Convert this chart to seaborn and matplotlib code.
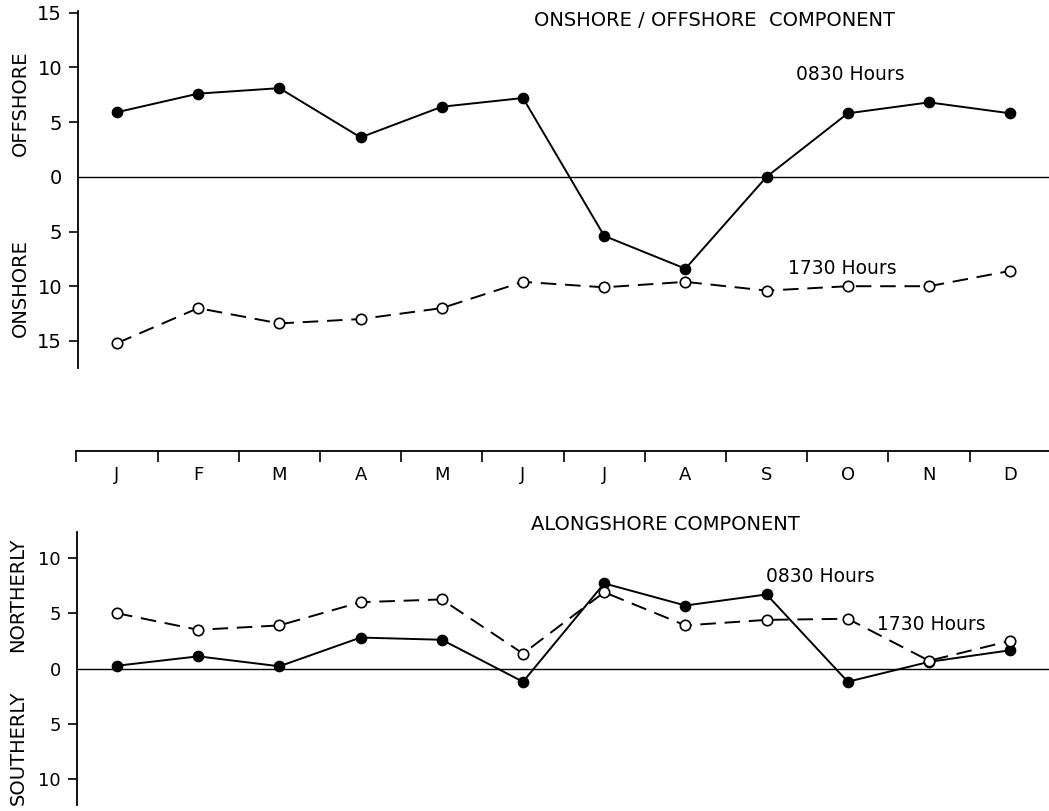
import matplotlib
matplotlib.use("Agg")
import matplotlib.pyplot as plt
import numpy as np
import pandas as pd
import seaborn as sns

# ---- data -------------------------------------------------------------
months = ["J", "F", "M", "A", "M", "J", "J", "A", "S", "O", "N", "D"]

# onshore / offshore component (offshore > 0, onshore < 0)
cross_0830 = [5.9, 7.6, 8.1, 3.6, 6.4, 7.2, -5.4, -8.4, 0.0, 5.8, 6.8, 5.8]
cross_1730 = [-15.2, -12.0, -13.4, -13.0, -12.0, -9.6, -10.1, -9.6, -10.4, -10.0, -10.0, -8.6]

# alongshore component (northerly > 0, southerly < 0)
along_0830 = [0.25, 1.1, 0.2, 2.8, 2.6, -1.2, 7.7, 5.7, 6.7, -1.2, 0.6, 1.65]
along_1730 = [5.0, 3.5, 3.9, 6.0, 6.25, 1.35, 6.9, 3.9, 4.4, 4.5, 0.7, 2.5]

cross_ticks = [15, 10, 5, 0, -5, -10, -15]
along_ticks = [10, 5, 0, -5, -10]

# ---- styling ----------------------------------------------------------
sns.set_theme(style="white")
plt.rcParams["font.family"] = ["DejaVu Sans"]
plt.rcParams["axes.linewidth"] = 1.3
plt.rcParams["text.color"] = "black"

W, H = 1049, 811
fig = plt.figure(figsize=(W / 100, H / 100), dpi=100)
fig.patch.set_facecolor("white")

x = np.arange(len(months))
x0_px, dx_px = 117.0, 81.2          # pixel position of first month, month spacing
right_px = 1049.0


def frame(left_px, top_px, bottom_px):
    return [left_px / W, 1 - bottom_px / H, (right_px - left_px) / W, (bottom_px - top_px) / H]


def xlims(left_px):
    return (-(x0_px - left_px) / dx_px, (right_px - x0_px) / dx_px)


def ftext(px, py, s, **kw):
    fig.text(px / W, 1 - py / H, s, color="black", **kw)


def series(ax, values, dashed):
    df = pd.DataFrame({"month": x, "value": values})
    kws = dict(color="black", linewidth=1.4, marker="o", markersize=7.2,
               markeredgecolor="black", markeredgewidth=1.2)
    if dashed:
        kws.update(linestyle=(0, (8, 4.5)), markerfacecolor="white", markersize=7.5)
    else:
        kws.update(linestyle="-", markerfacecolor="black")
    sns.lineplot(data=df, x="month", y="value", ax=ax, **kws)


def style_panel(ax, ticks, ylim, xl, size):
    ax.set_xlim(*xl)
    ax.set_ylim(*ylim)
    for s in ("top", "right", "bottom"):
        ax.spines[s].set_visible(False)
    ax.spines["left"].set_color("black")
    ax.set_xticks([])
    ax.set_xlabel("")
    ax.set_ylabel("")
    ax.set_yticks(ticks)
    ax.set_yticklabels([str(abs(t)) for t in ticks])
    ax.tick_params(axis="y", direction="out", length=6.5, width=1.2, pad=5,
                   labelsize=size, colors="black", left=True)
    for t, tk in zip(ticks, ax.yaxis.get_major_ticks()):
        if t == 0:
            tk.tick1line.set_visible(False)
    ax.axhline(0, color="black", linewidth=1.0, zorder=1)
    ax.set_facecolor("none")


# ---- onshore / offshore panel ----------------------------------------
ax_top = fig.add_axes(frame(78, 11, 368.3))
series(ax_top, cross_0830, dashed=False)
series(ax_top, cross_1730, dashed=True)
style_panel(ax_top, cross_ticks, (-17.5, 15.15), xlims(78), 14)

# ---- month strip -----------------------------------------------------
ax_mid = fig.add_axes([(x0_px - 0.5 * dx_px) / W, 1 - 451 / H,
                       (right_px - (x0_px - 0.5 * dx_px)) / W, 0.0001])
ax_mid.set_xlim(-0.5, (right_px - x0_px) / dx_px)
ax_mid.set_yticks([])
for s in ("top", "right", "left"):
    ax_mid.spines[s].set_visible(False)
ax_mid.spines["bottom"].set_color("black")
ax_mid.set_xticks(x)
ax_mid.set_xticklabels(months)
ax_mid.set_xticks(np.arange(len(months)) - 0.5, minor=True)
ax_mid.tick_params(axis="x", which="major", length=0, pad=11, labelsize=13,
                   colors="black", bottom=True)
ax_mid.tick_params(axis="x", which="minor", length=8, width=1.2, direction="out",
                   colors="black", bottom=True)
ax_mid.set_facecolor("none")

# ---- alongshore panel ------------------------------------------------
ax_bot = fig.add_axes(frame(77, 532, 805))
series(ax_bot, along_0830, dashed=False)
series(ax_bot, along_1730, dashed=True)
style_panel(ax_bot, along_ticks, (-12.35, 12.35), xlims(77), 13)

# ---- titles, series names and side labels ----------------------------
ftext(714, 21, "ONSHORE / OFFSHORE  COMPONENT", fontsize=14, ha="center", va="center")
ftext(850, 75, "0830 Hours", fontsize=13.5, ha="center", va="center")
ftext(842, 269, "1730 Hours", fontsize=13.5, ha="center", va="center")

ftext(665, 524, "ALONGSHORE COMPONENT", fontsize=14, ha="center", va="center")
ftext(820, 576, "0830 Hours", fontsize=13.5, ha="center", va="center")
ftext(931, 624, "1730 Hours", fontsize=13.5, ha="center", va="center")

ftext(20, 103, "OFFSHORE", fontsize=14, rotation=90, ha="center", va="center")
ftext(20, 288, "ONSHORE", fontsize=14, rotation=90, ha="center", va="center")
ftext(18, 595, "NORTHERLY", fontsize=14, rotation=90, ha="center", va="center")
ftext(18, 748, "SOUTHERLY", fontsize=14, rotation=90, ha="center", va="center")

fig.savefig("out.png", dpi=100, facecolor="white")
